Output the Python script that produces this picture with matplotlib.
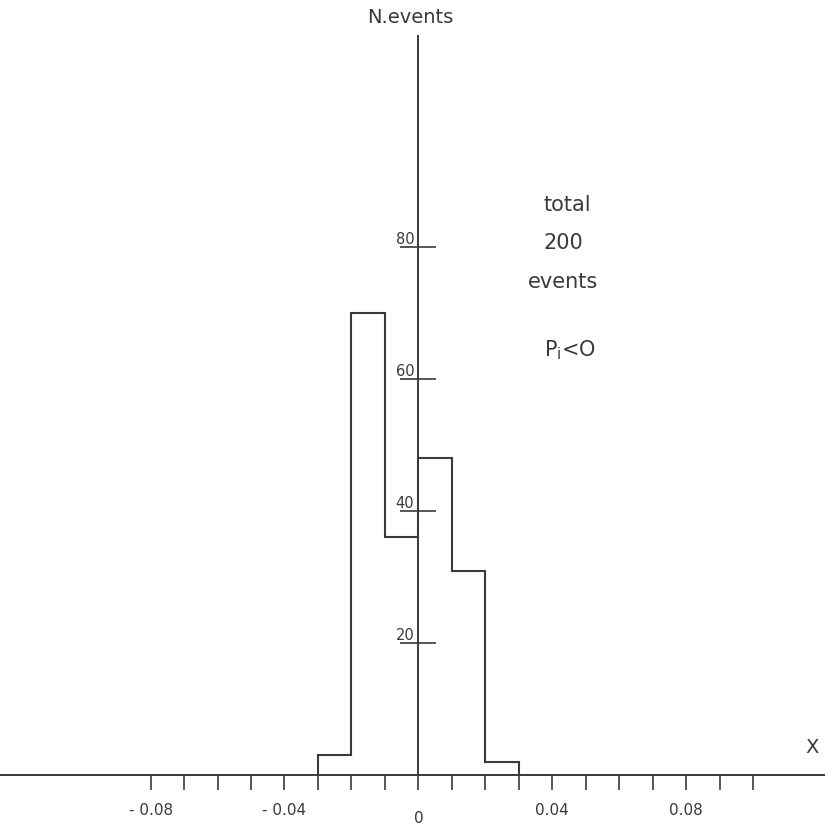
import matplotlib.pyplot as plt
from matplotlib.transforms import ScaledTranslation

# Histogram of x for 200 events (P_i < 0)
bin_edges = [-0.03, -0.02, -0.01, 0.0, 0.01, 0.02, 0.03]
counts = [3, 70, 36, 48, 31, 2]

y_ticks = [20, 40, 60, 80]
x_major = [-0.08, -0.04, 0, 0.04, 0.08]
x_labels = ["- 0.08", "- 0.04", "0", "0.04", "0.08"]
x_minor = [-0.07, -0.06, -0.05, -0.03, -0.02, -0.01, 0.01, 0.02, 0.03,
           0.05, 0.06, 0.07, 0.09, 0.10]

ink = "#3a3a3a"
plt.rcParams["font.family"] = ["DejaVu Sans"]

fig = plt.figure(figsize=(8.25, 8.32), dpi=100)
ax = fig.add_axes([0, 0, 1, 1])

ax.stairs(counts, bin_edges, color=ink, linewidth=1.5)

ax.set_xlim(-0.125, 0.1215)
ax.set_ylim(-8.6, 117.4)

# axes crossing at the origin
ax.spines["left"].set_position(("data", 0))
ax.spines["bottom"].set_position(("data", 0))
ax.spines["top"].set_visible(False)
ax.spines["right"].set_visible(False)
ax.spines["left"].set_bounds(0, 112)
for s in ("left", "bottom"):
    ax.spines[s].set_color(ink)
    ax.spines[s].set_linewidth(1.4)

ax.set_yticks(y_ticks)
ax.set_yticklabels([str(v) for v in y_ticks])
ax.tick_params(axis="y", direction="inout", length=26, width=1.2,
               colors=ink, labelsize=10.5, pad=-10)
for lab in ax.get_yticklabels():
    lab.set_verticalalignment("bottom")

ax.set_xticks(x_major)
ax.set_xticklabels(x_labels)
ax.set_xticks(x_minor, minor=True)
ax.tick_params(axis="x", which="both", direction="out", length=11,
               width=1.2, colors=ink, labelsize=11, pad=9)
for lab in ax.get_xticklabels():
    if lab.get_text() == "0":
        lab.set_transform(lab.get_transform() +
                          ScaledTranslation(0, -8 / 100, fig.dpi_scale_trans))

ax.text(-0.0024, 114.7, "N.events", ha="center", va="center",
        fontsize=14, color=ink)
ax.text(0.1176, 2.8, "X", ha="center", va="bottom", fontsize=14, color=ink)

ax.text(0.0445, 86.4, "total", ha="center", va="center", fontsize=15, color=ink)
ax.text(0.0433, 80.6, "200", ha="center", va="center", fontsize=15, color=ink)
ax.text(0.0433, 74.7, "events", ha="center", va="center", fontsize=15, color=ink)
ax.text(0.0454, 64.4, r"P$_{\rm i}$<O", ha="center", va="center",
        fontsize=15, color=ink)

fig.savefig("out.png", dpi=100, facecolor="white")
